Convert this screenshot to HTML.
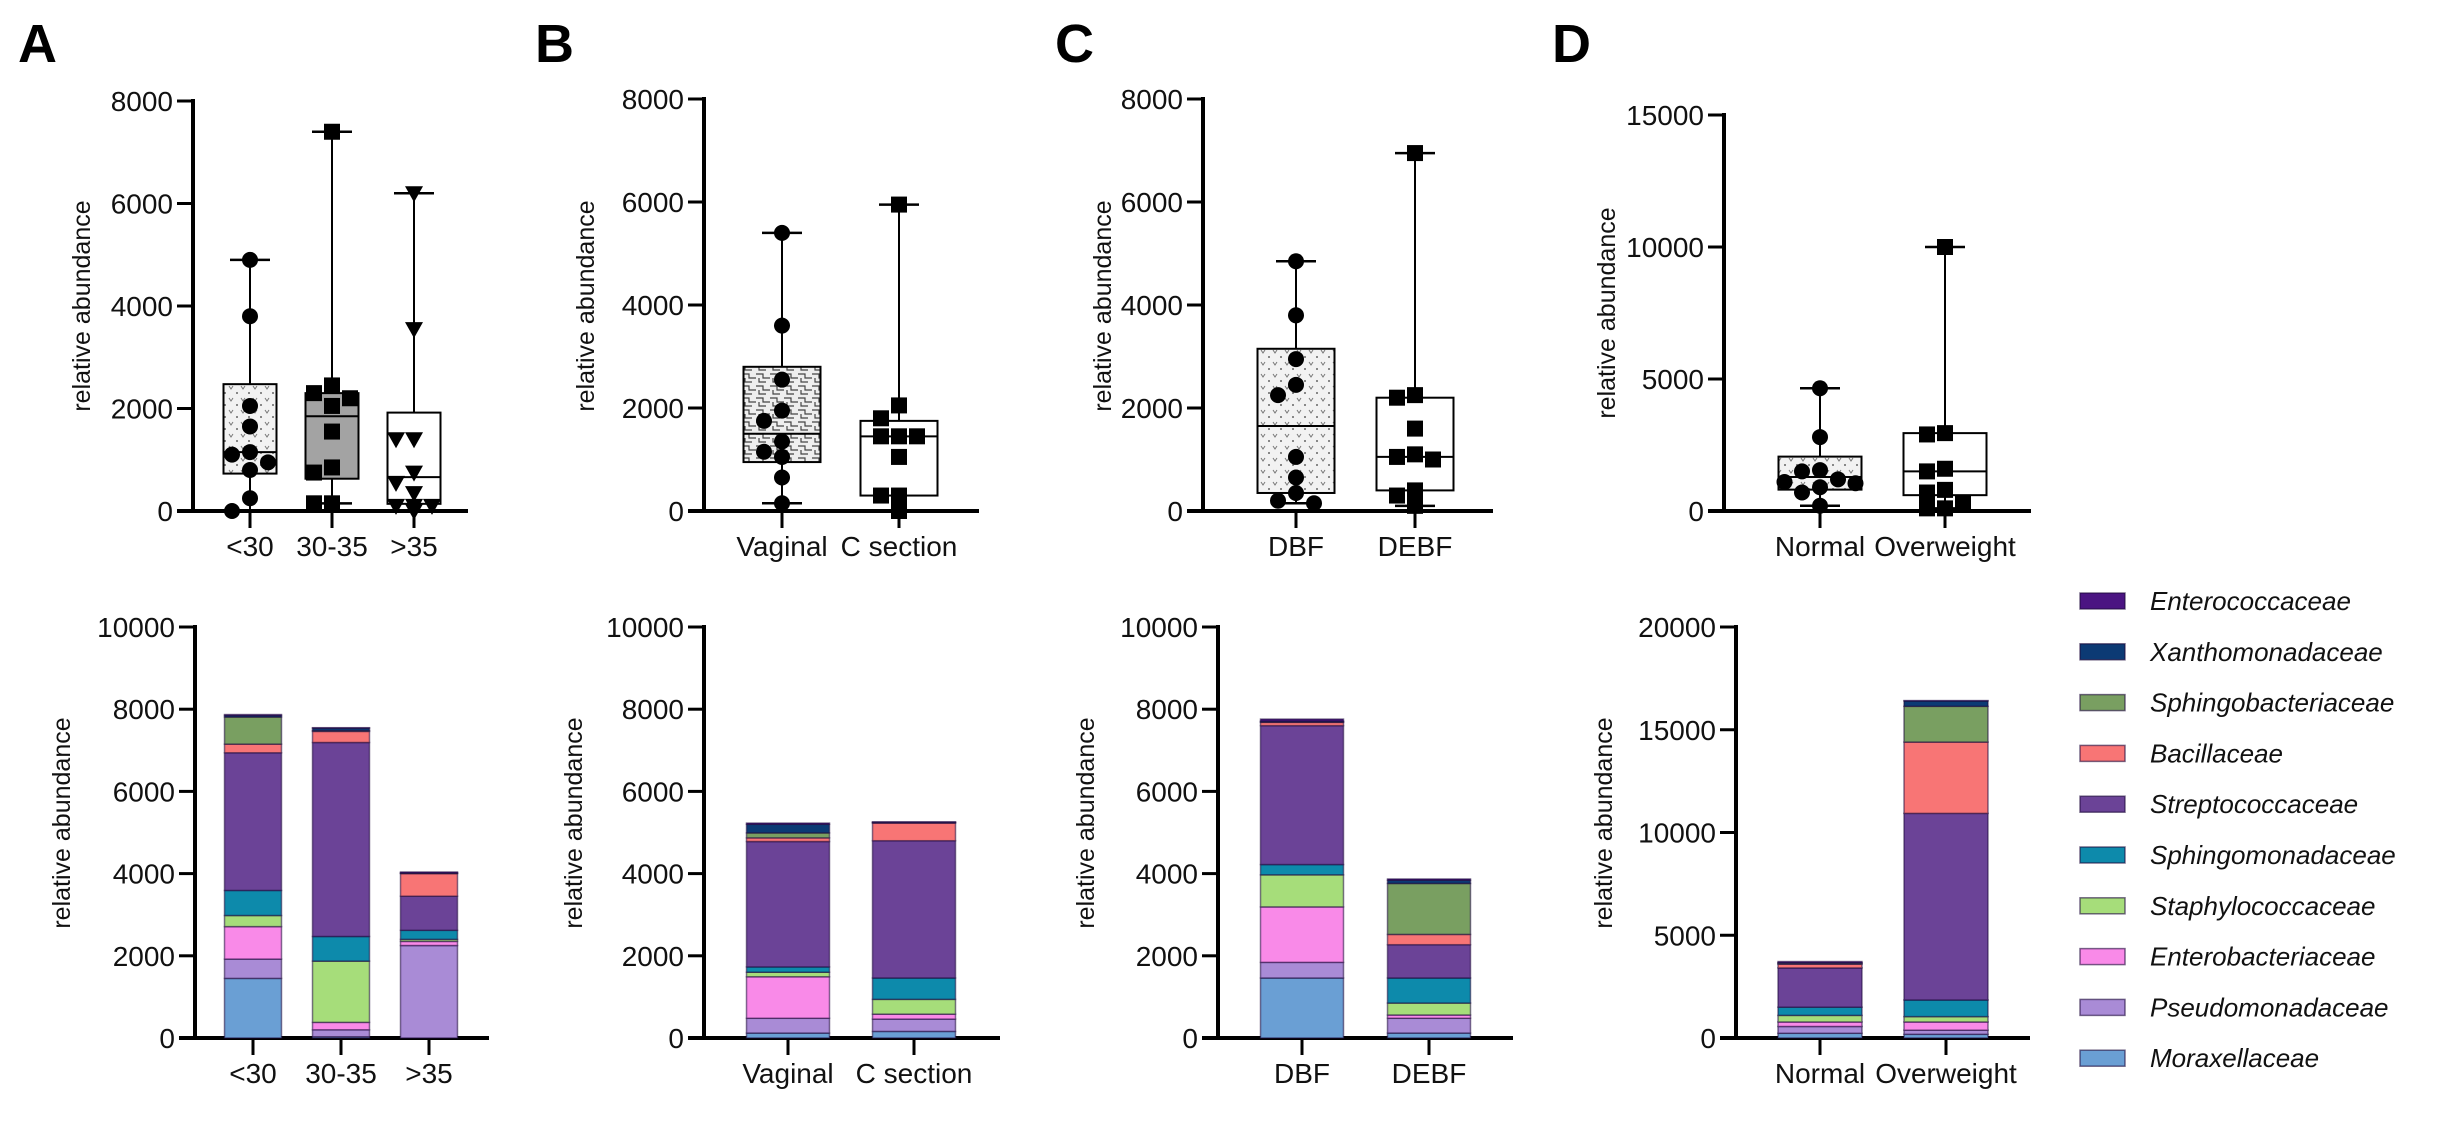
<!DOCTYPE html>
<html><head><meta charset="utf-8">
<style>
html,body{margin:0;padding:0;background:#fff;}
svg{display:block;font-family:"Liberation Sans",Arial,sans-serif;}
</style></head>
<body>
<svg id="fig" width="2444" height="1140" viewBox="0 0 2444 1140" xmlns="http://www.w3.org/2000/svg">
<defs>
<pattern id="pat-v" width="12" height="12" patternUnits="userSpaceOnUse">
<rect width="12" height="12" fill="#f2f2f2"/>
<path d="M1,2 L3,5 L5,2" stroke="#777" stroke-width="1" fill="none"/>
<circle cx="9" cy="9" r="1" fill="#666"/>
</pattern>
<pattern id="pat-brick" width="14" height="12" patternUnits="userSpaceOnUse">
<rect width="14" height="12" fill="#eee"/>
<path d="M0,2 H7 V6 H14 M3,6 V10 H10" stroke="#444" stroke-width="1.2" fill="none"/>
</pattern>
</defs>
<g id="root"></g>
</svg>
<script>
// ---------- DATA ----------
const catsA = ["<30","30-35",">35"];
const ptsA = [
 [4900,3800,2050,1650,1150,1100,950,800,250,0],
 [7400,2450,2300,2200,2050,1550,850,750,150,150],
 [6200,3550,1400,1400,750,550,350,100,100,100,0]
];
const boxA = [[0,730,1150,2475,4900],[150,630,1850,2300,7400],[0,140,660,1920,6200]];
const catsB = ["Vaginal","C section"];
const ptsB = [
 [5400,3600,2550,1950,1750,1350,1150,1050,650,150],
 [5950,2050,1800,1450,1450,1450,1050,300,300,0]
];
const boxB = [[150,950,1500,2800,5400],[0,300,1450,1750,5950]];
const catsC = ["DBF","DEBF"];
const ptsC = [
 [4850,3800,2950,2450,2250,1050,650,350,200,150],
 [6950,2250,2200,1600,1100,1050,1000,400,300,100]
];
const boxC = [[150,350,1650,3150,4850],[100,400,1050,2200,6950]];
const catsD = ["Normal","Overweight"];
const ptsD = [
 [4650,2800,1550,1500,1200,1100,1050,900,700,200],
 [10000,2950,2900,1600,1500,800,700,300,100,100]
];
const boxD = [[200,810,1290,2060,4650],[100,600,1500,2950,10000]];
const ticksTop8000 = [0,2000,4000,6000,8000];
const ticksTop15000 = [0,5000,10000,15000];

const families = ["Moraxellaceae","Pseudomonadaceae","Enterobacteriaceae","Staphylococcaceae","Sphingomonadaceae","Streptococcaceae","Bacillaceae","Sphingobacteriaceae","Xanthomonadaceae","Enterococcaceae"];
const famColors = ["#6a9fd4","#a98bd6","#f98ae8","#a6dd7a","#0d8aab","#6b4397","#f87575","#799f61","#0c3a74","#4b1482"];
const stackA = [
 [1450,470,790,270,610,3350,210,660,40,20],
 [30,170,180,1490,600,4720,270,20,60,10],
 [0,2250,100,50,220,830,550,10,10,20]
];
const stackB = [
 [120,360,1010,110,130,3050,90,120,210,30],
 [160,300,120,360,520,3340,430,10,10,10]
];
const stackC = [
 [1460,380,1350,780,250,3380,80,10,20,50],
 [120,360,80,290,610,810,250,1240,80,30]
];
const stackD = [
 [230,330,220,320,400,1910,180,50,30,50],
 [180,200,400,260,810,9080,3470,1740,260,20]
];
const ticks10000 = [0,2000,4000,6000,8000,10000];
const ticks20000 = [0,5000,10000,15000,20000];

// ---------- HELPERS ----------
const NS="http://www.w3.org/2000/svg";
const root=document.getElementById('root');
function mk(tag,attrs,parent){const e=document.createElementNS(NS,tag);for(const k in attrs)e.setAttribute(k,attrs[k]);(parent||root).appendChild(e);return e;}

function axes(g,cfg,ticks,cats,name){
  const {x0,x1,y0,yT,max,c0,step}=cfg;
  const y=v=>y0-(v/max)*(y0-yT);
  const ax=mk('g',{},g);
  
  
  const yl=mk('line',{x1:x0,y1:y0+2,x2:x0,y2:y(ticks[ticks.length-1])-2,stroke:'#000','stroke-width':4},ax);
  
  
  const xl=mk('line',{x1:x0-16,y1:y0,x2:x1,y2:y0,stroke:'#000','stroke-width':4},ax);
  
  
  ticks.forEach(t=>{
    mk('line',{x1:x0-16,y1:y(t),x2:x0,y2:y(t),stroke:'#000','stroke-width':3},ax);
    const tx=mk('text',{x:x0-20,y:y(t)+10,'text-anchor':'end','font-size':28,fill:'#111'},ax);
    tx.textContent=t;
    
    
  });
  cats.forEach((c,i)=>{
    const cx=c0+i*step;
    mk('line',{x1:cx,y1:y0,x2:cx,y2:y0+17,stroke:'#000','stroke-width':3},ax);
    const tx=mk('text',{x:cx,y:y0+45,'text-anchor':'middle','font-size':28,fill:'#111'},ax);
    tx.textContent=c;
    
    
  });
  return y;
}
function ytitle(g,x,yc,name){
  const t=mk('text',{x:0,y:0,transform:`translate(${x},${yc}) rotate(-90)`,'text-anchor':'middle','font-size':25,fill:'#111'},g);
  t.textContent='relative abundance';
  
  
}
function marker(g,shape,x,y){
  let e;
  if(shape==='circle') e=mk('circle',{cx:x,cy:y,r:8,fill:'#000'},g);
  else if(shape==='square') e=mk('rect',{x:x-8,y:y-8,width:16,height:16,fill:'#000'},g);
  else e=mk('path',{d:`M${x-9},${y-7} L${x+9},${y-7} L${x},${y+9} Z`,fill:'#000'},g);
  
  
}
function boxplot(g,cfg,ticks,cats,boxes,pts,fills,shapes,name){
  const y=axes(g,cfg,ticks,cats,name);
  boxes.forEach((b,i)=>{
    const cx=cfg.c0+i*cfg.step, w=cfg.bw;
    const bg=mk('g',{},g);
    
    
    mk('line',{x1:cx,y1:y(b[0]),x2:cx,y2:y(b[4]),stroke:'#000','stroke-width':2},bg);
    mk('line',{x1:cx-20,y1:y(b[4]),x2:cx+20,y2:y(b[4]),stroke:'#000','stroke-width':2.5},bg);
    mk('line',{x1:cx-20,y1:y(b[0]),x2:cx+20,y2:y(b[0]),stroke:'#000','stroke-width':2.5},bg);
    mk('rect',{x:cx-w/2,y:y(b[3]),width:w,height:y(b[1])-y(b[3]),fill:fills[i],stroke:'#000','stroke-width':2},bg);
    mk('line',{x1:cx-w/2,y1:y(b[2]),x2:cx+w/2,y2:y(b[2]),stroke:'#000','stroke-width':2},bg);
    const placed=[];
    const lim=w/2-6;
    pts[i].forEach(v=>{
      const py=y(v);
      const offs=[0,-18,18,-lim,lim,-9,9];
      let ox=0;
      for(const o of offs){ if(!placed.some(p=>Math.abs(p[0]-o)<16&&Math.abs(p[1]-py)<15)){ox=o;break;} }
      placed.push([ox,py]);
      marker(bg,shapes[i],cx+ox,py);
    });
  });
}
function stacked(g,cfg,ticks,cats,stacks,name){
  const y=axes(g,cfg,ticks,cats,name);
  stacks.forEach((s,i)=>{
    const cx=cfg.c0+i*cfg.step,w=cfg.bw;
    let cum=0;
    s.forEach((v,k)=>{
      if(v<=0){return;}
      const r=mk('rect',{x:cx-w/2,y:y(cum+v),width:w,height:y(cum)-y(cum+v),fill:famColors[k],stroke:'rgba(30,10,60,0.55)','stroke-width':1.5},g);
      
      
      cum+=v;
    });
  });
}
function letter(ch,x,y){
  const t=mk('text',{x:x,y:y,'font-size':54,'font-weight':'bold',fill:'#000'});
  t.textContent=ch;
  
  
}

// ---------- BUILD ----------
letter('A',18,62); letter('B',535,62); letter('C',1055,62); letter('D',1552,62);

const gA=mk('g',{});  
boxplot(gA,{x0:193,x1:468,y0:511,yT:101,max:8000,c0:250,step:82,bw:53},ticksTop8000,catsA,boxA,ptsA,['url(#pat-v)','#a3a3a3','#fff'],['circle','square','tri'],'panel-a');
ytitle(gA,90,306,'panel-a');
const gB=mk('g',{});  
boxplot(gB,{x0:704,x1:979,y0:511,yT:99,max:8000,c0:782,step:117,bw:77},ticksTop8000,catsB,boxB,ptsB,['url(#pat-brick)','#fff'],['circle','square'],'panel-b');
ytitle(gB,594,306,'panel-b');
const gC=mk('g',{});  
boxplot(gC,{x0:1203,x1:1493,y0:511,yT:99,max:8000,c0:1296,step:119,bw:77},ticksTop8000,catsC,boxC,ptsC,['url(#pat-v)','#fff'],['circle','square'],'panel-c');
ytitle(gC,1111,306,'panel-c');
const gD=mk('g',{});  
boxplot(gD,{x0:1724,x1:2031,y0:511,yT:115,max:15000,c0:1820,step:125,bw:83},ticksTop15000,catsD,boxD,ptsD,['url(#pat-v)','#fff'],['circle','square'],'panel-d');
ytitle(gD,1615,313,'panel-d');

const sA=mk('g',{});  
stacked(sA,{x0:195,x1:489,y0:1038,yT:627,max:10000,c0:253,step:88,bw:57},ticks10000,catsA,stackA,'panel-a');
ytitle(sA,70,823,'panel-a-bars');
const sB=mk('g',{});  
stacked(sB,{x0:704,x1:1000,y0:1038,yT:627,max:10000,c0:788,step:126,bw:83},ticks10000,catsB,stackB,'panel-b');
ytitle(sB,582,823,'panel-b-bars');
const sC=mk('g',{});  
stacked(sC,{x0:1218,x1:1513,y0:1038,yT:627,max:10000,c0:1302,step:127,bw:83},ticks10000,catsC,stackC,'panel-c');
ytitle(sC,1094,823,'panel-c-bars');
const sD=mk('g',{});  
stacked(sD,{x0:1736,x1:2030,y0:1038,yT:627,max:20000,c0:1820,step:126,bw:84},ticks20000,catsD,stackD,'panel-d');
ytitle(sD,1612,823,'panel-d-bars');

const lg=mk('g',{});  
for(let j=0;j<families.length;j++){
  const k=families.length-1-j;
  const yc=601+j*50.8;
  const e=mk('g',{},lg);
  
  
  mk('rect',{x:2080,y:yc-8,width:45,height:16,fill:famColors[k],stroke:'rgba(30,10,60,0.6)','stroke-width':1.5},e);
  const t=mk('text',{x:2150,y:yc+9,'font-size':26,'font-style':'italic',fill:'#111'},e);
  t.textContent=families[k];
}
</script>
</body></html>
